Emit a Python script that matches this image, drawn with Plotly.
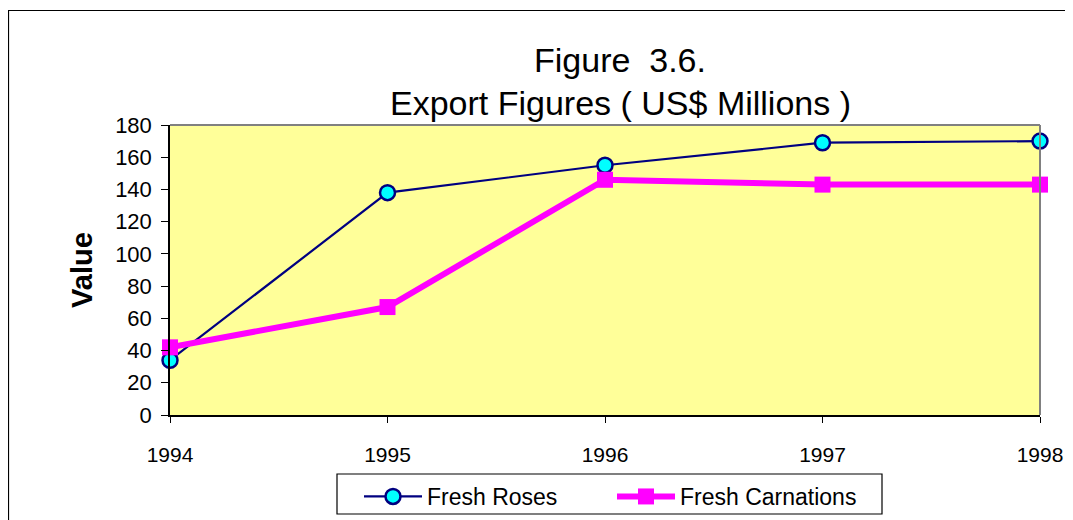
import plotly.graph_objects as go

years = [1994, 1995, 1996, 1997, 1998]
roses = [34, 138, 155, 169, 170]
carnations = [42, 67, 146, 143, 143]
y_ticks = [0, 20, 40, 60, 80, 100, 120, 140, 160, 180]

# page body has an 8px margin, so work in figure pixels = reference pixels - 8
OFF = 8
W, H = 1073 - OFF, 520 - OFF
L, R, T, B = 170 - OFF, 1040 - OFF, 125 - OFF, 415 - OFF
pw, ph = R - L, B - T


def px(x):
    return (x - OFF - L) / pw


def py(y):
    return (B - (y - OFF)) / ph


font = "Liberation Sans, Arial, sans-serif"

fig = go.Figure()
fig.add_trace(go.Scatter(
    x=years, y=roses, name="Fresh Roses", mode="lines+markers",
    line=dict(color="#000080", width=2.2),
    marker=dict(symbol="circle", size=15, color="#00FFFF",
                line=dict(color="#000080", width=2.5)),
    cliponaxis=False,
))
fig.add_trace(go.Scatter(
    x=years, y=carnations, name="Fresh Carnations", mode="lines+markers",
    line=dict(color="#FF00FF", width=6),
    marker=dict(symbol="square", size=16, color="#FF00FF",
                line=dict(color="#FF00FF", width=0)),
    cliponaxis=False,
))

fig.update_layout(
    width=W, height=H,
    margin=dict(l=L, r=W - R, t=T, b=H - B, autoexpand=False),
    paper_bgcolor="white",
    plot_bgcolor="#FFFF99",
    font=dict(family=font, color="black", size=21),
    showlegend=True,
    legend=dict(
        orientation="h", xref="container", yref="container",
        x=(612 - OFF) / W, xanchor="center",
        y=1 - (475 - OFF) / H, yanchor="top",
        borderwidth=0, bgcolor="rgba(0,0,0,0)",
        font=dict(size=23, family=font), itemwidth=58,
        entrywidth=180,
    ),
    xaxis=dict(
        range=[1994, 1998], tickmode="array", tickvals=years,
        ticktext=[str(y) for y in years],
        ticks="outside", ticklen=6, tickcolor="black",
        showgrid=False, zeroline=False,
        showline=True, linecolor="black", linewidth=1.5,
        ticklabelstandoff=14, tickfont=dict(size=21),
    ),
    yaxis=dict(
        range=[0, 180], tickmode="array", tickvals=y_ticks,
        ticks="outside", ticklen=7, tickcolor="black",
        showgrid=False, zeroline=False,
        showline=True, linecolor="black", linewidth=1.5,
        ticklabelstandoff=5, tickfont=dict(size=22),
        title=dict(text="<b>Value</b>", font=dict(size=29), standoff=14),
    ),
    shapes=[
        dict(type="line", xref="paper", yref="paper", x0=0, x1=1, y0=1, y1=1,
             line=dict(color="#808080", width=2)),
        dict(type="line", xref="paper", yref="paper", x0=1, x1=1, y0=0, y1=1,
             line=dict(color="#808080", width=2)),
        # outer chart frame
        dict(type="rect", xref="paper", yref="paper",
             x0=px(8.5), x1=px(1100), y0=py(10.5), y1=py(560),
             line=dict(color="black", width=1.2), fillcolor="rgba(0,0,0,0)"),
        # legend box
        dict(type="rect", xref="paper", yref="paper",
             x0=px(337), x1=px(882), y0=py(474), y1=py(514),
             line=dict(color="black", width=1.2), fillcolor="white",
             layer="below"),
    ],
    annotations=[
        dict(text="Figure  3.6.", xref="paper", yref="paper",
             x=px(620), y=py(60), xanchor="center", yanchor="middle",
             showarrow=False, font=dict(size=34, family=font)),
        dict(text="Export Figures ( US$ Millions )", xref="paper", yref="paper",
             x=px(620), y=py(103), xanchor="center", yanchor="middle",
             showarrow=False, font=dict(size=34, family=font)),
    ],
)

fig.write_html("out.html")
